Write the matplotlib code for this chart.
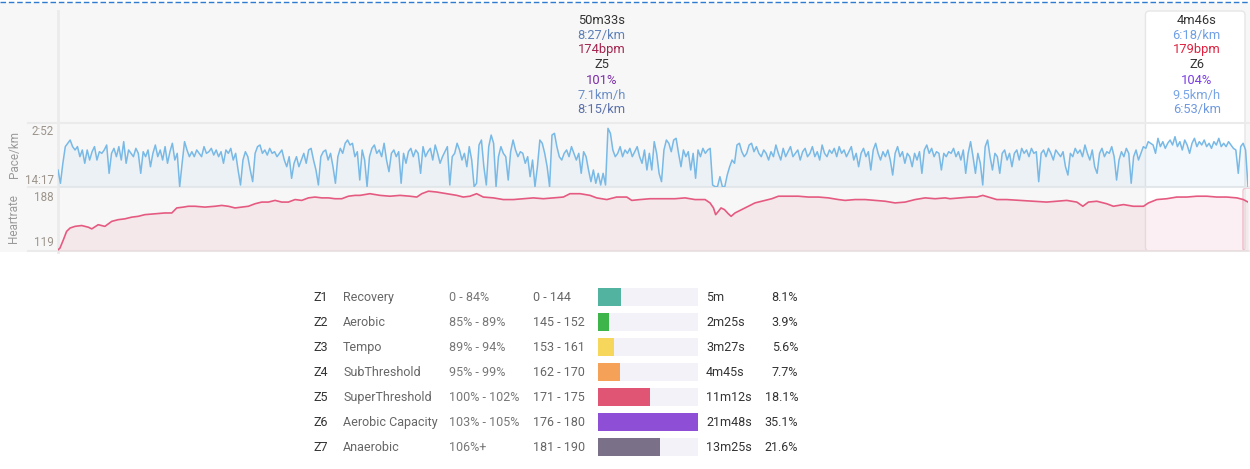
import matplotlib
matplotlib.use("Agg")
import matplotlib.pyplot as plt
from matplotlib.patches import Rectangle, FancyBboxPatch
import numpy as np

plt.rcParams['font.family'] = ['Roboto', 'DejaVu Sans']

# ---- data ----
interval_min = [50 + 33 / 60, 4 + 46 / 60]
interval_text = [
    ['50m33s', '8:27/km', '174bpm', 'Z5', '101%', '7.1km/h', '8:15/km'],
    ['4m46s', '6:18/km', '179bpm', 'Z6', '104%', '9.5km/h', '6:53/km'],
]
interval_colors = [
    ['#333333', '#5e80b8', '#a3244e', '#333333', '#7a2aa6', '#6b8fc8', '#5b70a8'],
    ['#333333', '#6f9fe4', '#e0203e', '#333333', '#7a3de0', '#79a4e6', '#6f99e0'],
]

# pace, seconds per km
pace_sec = [
    669, 816, 595, 411, 374, 338, 411, 448, 411, 522, 448, 595, 448, 559, 467, 411, 559, 467, 485, 448,
    393, 706, 485, 430, 522, 411, 559, 356, 595, 448, 485, 522, 430, 485, 706, 467, 522, 448, 633, 485,
    393, 522, 448, 559, 411, 595, 467, 374, 559, 485, 853, 595, 356, 448, 522, 467, 522, 448, 485, 522,
    411, 485, 467, 430, 504, 448, 522, 467, 595, 448, 485, 430, 559, 485, 669, 835, 559, 467, 522, 669,
    798, 485, 411, 393, 485, 448, 504, 430, 485, 467, 522, 485, 448, 559, 633, 522, 761, 595, 522, 633,
    559, 485, 595, 448, 430, 559, 669, 835, 522, 467, 448, 559, 485, 633, 816, 522, 430, 485, 374, 338,
    393,
    374, 522, 467, 780, 448, 559, 853, 522, 430, 393, 485, 448, 522, 374, 559, 688, 485, 448, 522, 467,
    816, 485, 595, 467, 430, 522, 448, 485, 706, 411, 522, 467, 430, 559, 393, 485, 595, 522, 467, 411,
    835, 522, 485, 374, 448, 559, 485, 633, 411, 559, 853, 816, 393, 338, 633, 835, 411, 283, 374, 853,
    522, 411, 485, 522, 780, 467, 338, 448, 522, 467, 485, 595, 522, 743, 559, 853, 633, 338, 374, 485,
    633, 853, 283, 264, 411, 522, 559, 485, 448, 522, 411, 485, 559, 485, 706, 467, 522, 669, 798, 669,
    816, 706, 835, 706, 835, 209, 264, 448, 522, 485, 411, 522, 448, 485, 430, 522, 467, 411, 522, 595,
    448, 669, 485,
    669, 356, 485, 706, 798, 448, 338, 374, 467, 338, 319, 485, 633, 448, 522, 467, 669, 485, 761, 448,
    522, 430, 485, 448, 430, 835, 853, 853, 743, 853, 853, 725, 633, 559, 595, 393, 374, 467, 522, 485,
    393, 374, 467, 411, 485, 522, 448, 485, 559, 467, 522, 393, 485, 559, 430, 522, 467, 411, 522, 485,
    448, 559, 467, 430, 522, 485, 411, 522, 467, 559, 393, 485, 522, 448, 485, 430, 522, 411, 485, 448,
    522, 467, 411, 559, 485, 633, 485, 430, 522, 467, 669, 448, 374, 485, 559, 467, 522, 448, 559, 725,
    485, 411, 522, 467, 595, 485, 522, 633, 485, 559, 467, 706, 448, 393, 485, 430, 522, 467, 485, 669,
    485,
    522, 467, 485, 430, 522, 467, 559, 448, 706, 485, 356, 522, 706, 485, 595, 835, 411, 338, 522, 669,
    485, 522, 706, 485, 448, 559, 485, 633, 485, 448, 559, 430, 485, 448, 522, 430, 485, 467, 798, 485,
    448, 522, 430, 485, 559, 448, 485, 522, 467, 633, 725, 485, 522, 430, 485, 448, 522, 393, 485, 559,
    448, 633, 706, 485, 430, 522, 467, 485, 411, 522, 780, 559, 467, 522, 430, 485, 816, 522, 448, 559,
    485, 411, 430, 356, 374, 393, 485, 319, 411, 356, 430, 374, 338, 393, 301, 411, 356, 448, 338, 393,
    485, 374, 319, 411, 356, 393, 338, 411, 374, 430, 356, 393, 319, 411, 374, 411, 356, 393, 430, 448,
    706, 411, 374, 448, 853,
]
pace_ticks = [172, 857]
pace_ticklabels = ['2:52', '14:17']

hr_min = [
    0.0, 0.09, 0.25, 0.4, 0.56, 0.79, 1.1, 1.41, 1.57, 1.87, 2.18, 2.5, 2.8, 3.11, 3.43, 3.73, 4.04,
    4.51, 4.97, 5.29, 5.52, 5.83, 6.06, 6.37, 6.83, 7.3, 7.61, 7.92, 8.23, 8.54, 8.85, 9.16, 9.47,
    9.78, 10.09, 10.4, 10.71, 11.02, 11.33, 11.64, 11.95, 12.26, 12.57, 12.88, 13.19, 13.5, 13.81,
    14.04, 14.5, 14.97, 15.43, 15.9, 16.36, 16.68, 16.91, 17.22, 17.6, 18.07, 18.54, 18.84, 19.15,
    19.46, 19.77, 20.24, 20.7, 21.17, 21.63, 22.1, 22.56, 23.03, 23.49, 23.8, 24.27, 24.73, 25.04,
    25.51, 25.97, 26.44, 26.67, 27.06, 27.52,
    27.75, 28.22, 28.68, 29.15, 29.61, 30.08, 30.31, 30.47, 30.57, 30.7, 30.82, 30.98, 31.16, 31.29,
    31.47, 31.78, 32.09, 32.4, 32.87, 33.18, 33.49, 33.95, 34.42, 34.88, 35.35, 35.81, 36.28, 36.59,
    37.05, 37.52, 37.98, 38.45, 38.91, 39.38, 39.84, 40.31, 40.77, 41.24,
    41.47, 41.93, 42.4, 42.71, 42.99, 43.25, 43.64, 44.1, 44.72, 45.34, 45.96, 46.43, 46.89, 47.36,
    47.64, 47.9, 48.29, 48.75, 49.06, 49.53, 49.99, 50.46, 50.69, 51.08, 51.54, 52.01, 52.47, 52.94,
    53.4, 53.87, 54.33, 54.8, 55.1, 55.32,
]
hr_bpm = [
    118, 120, 130, 140, 144, 146, 147, 145, 143, 148, 146, 152, 154, 155, 157, 158, 160, 161, 162, 162,
    168, 169, 170, 170, 169, 170, 171, 170, 168, 169, 170, 173, 175, 175, 177, 175, 175, 178, 177, 180,
    181, 180, 180, 179, 179, 182, 183,
    183, 185, 183, 182, 183, 182, 181, 185, 188, 187, 185, 183, 181, 182, 185, 181, 180, 178, 178, 179,
    180, 179, 180, 181, 185, 185, 183, 180, 178, 181, 181, 177, 178, 179,
    179, 179, 179, 180, 178, 178, 174, 168, 160, 164, 168, 166, 161, 158, 162, 166, 170, 174, 177, 179,
    182, 182, 182, 181, 181, 180, 178, 177, 178, 178, 177, 176, 174, 175, 178, 180, 179, 180,
    179, 180, 181, 181, 183, 181, 178, 178, 177, 176, 175, 176, 177, 175, 170, 175, 176, 173, 170, 172,
    170, 170, 174, 178, 179, 181, 181, 182, 182, 181, 181, 180, 178, 175,
]
hr_ticks = [119, 188]
hr_ticklabels = ['119', '188']

zones = ['Z1', 'Z2', 'Z3', 'Z4', 'Z5', 'Z6', 'Z7']
zone_names = ['Recovery', 'Aerobic', 'Tempo', 'SubThreshold', 'SuperThreshold',
              'Aerobic Capacity', 'Anaerobic']
zone_pct = ['0 - 84%', '85% - 89%', '89% - 94%', '95% - 99%', '100% - 102%',
            '103% - 105%', '106%+']
zone_bpm = ['0 - 144', '145 - 152', '153 - 161', '162 - 170', '171 - 175',
            '176 - 180', '181 - 190']
zone_time = ['5m', '2m25s', '3m27s', '4m45s', '11m12s', '21m48s', '13m25s']
zone_share = [8.1, 3.9, 5.6, 7.7, 18.1, 35.1, 21.6]
zone_colors = ['#52b3a0', '#3db54a', '#f6d75c', '#f5a157', '#e05474', '#8e4fd6', '#7a7189']

# ---- layout ----
W, H = 1250, 469
fig = plt.figure(figsize=(W / 100, H / 100), dpi=100)


def px_axes(x0, y0, x1, y1, z=1):
    return fig.add_axes([x0 / W, 1 - y1 / H, (x1 - x0) / W, (y1 - y0) / H], zorder=z)


bg = px_axes(0, 0, W, H, z=0)
bg.set_xlim(0, W)
bg.set_ylim(H, 0)
bg.axis('off')

X0, X1 = 58, 1248
total = sum(interval_min)


def tx(t):
    return X0 + t / total * (X1 - X0)


# backgrounds
bg.add_patch(Rectangle((0, 3), W, 249, color='#f7f7f7', lw=0))
split = tx(interval_min[0])
bg.add_patch(FancyBboxPatch((split, 11), 1245 - split, 240, boxstyle='round,pad=0,rounding_size=4',
                            fc='white', ec='#e6e6e6', lw=1))
bg.plot([0, W], [2, 2], color='#2f7bd0', lw=1, ls=(0, (4, 2)))
bg.plot([X0, X0], [11, 252], color='#ebebeb', lw=2)
for yy in (123, 187, 251):
    bg.plot([28, W], [yy, yy], color='#ebebeb', lw=1.5)
bg.add_patch(FancyBboxPatch((1243, 188), 10, 63, boxstyle='round,pad=0,rounding_size=3',
                            fc='none', ec='#f3c3d0', lw=1))

# interval annotations
starts = np.cumsum([0] + interval_min[:-1])
for s, d, lines, cols in zip(starts, interval_min, interval_text, interval_colors):
    cx = (tx(s) + tx(s + d)) / 2
    for i, (txt, c) in enumerate(zip(lines, cols)):
        bg.text(cx, 20 + 15 * i, txt, ha='center', va='center', fontsize=9.3, color=c)

# side labels
bg.text(14, 155, 'Pace/km', rotation=90, ha='center', va='center', fontsize=8.5, color='#9a9a9a')
bg.text(14, 219, 'Heartrate', rotation=90, ha='center', va='center', fontsize=8.5, color='#9a9a9a')

# pace panel
t_pace = np.linspace(0, total, len(pace_sec))
ax1 = px_axes(X0, 123, X1, 187)
ax1.set_facecolor('none')
ax1.fill_between(t_pace, pace_sec, 857, color='#7cb5e0', alpha=0.09, lw=0)
ax1.plot(t_pace, pace_sec, color='#78b9e6', lw=1.1)
ax1.set_xlim(0, total)
ax1.set_ylim(857, 150)

# heartrate panel
ax2 = px_axes(X0, 187, X1, 251)
ax2.set_facecolor('none')
ax2.fill_between(hr_min, hr_bpm, 116.6, color='#e0587c', alpha=0.09, lw=0)
ax2.plot(hr_min, hr_bpm, color='#e55a80', lw=1.2)
ax2.set_xlim(0, total)
ax2.set_ylim(116.6, 193)

for ax, ticks, labels, vas in ((ax1, pace_ticks, pace_ticklabels, ['top', 'bottom']),
                               (ax2, hr_ticks, hr_ticklabels, ['bottom', 'top'])):
    for sp in ax.spines.values():
        sp.set_visible(False)
    ax.set_xticks([])
    ax.set_yticks(ticks)
    ax.set_yticklabels(labels)
    ax.tick_params(axis='y', length=0, pad=3, labelsize=8.4, labelcolor='#9c948b')
    for lbl, va in zip(ax.get_yticklabels(), vas):
        lbl.set_va(va)

# zone table
rows = np.arange(len(zones))
ax3 = px_axes(598, 284.5, 698, 459.5)
ax3.axis('off')
ax3.barh(rows, [max(zone_share)] * len(zones), height=0.72, color='#f2f2f8')
ax3.barh(rows, zone_share, height=0.72, color=zone_colors)
ax3.set_xlim(0, max(zone_share))
ax3.set_ylim(len(zones) - 0.5, -0.5)

for i in rows:
    y = 297.5 + 25 * i
    bg.text(313, y, zones[i], ha='left', va='center', fontsize=9, color='#333333')
    bg.text(343, y, zone_names[i], ha='left', va='center', fontsize=9, color='#666666')
    bg.text(449, y, zone_pct[i], ha='left', va='center', fontsize=9, color='#777777')
    bg.text(533, y, zone_bpm[i], ha='left', va='center', fontsize=9, color='#666666')
    bg.text(706, y, zone_time[i], ha='left', va='center', fontsize=9, color='#333333')
    bg.text(798, y, '%.1f%%' % zone_share[i], ha='right', va='center', fontsize=9, color='#333333')

fig.savefig('out.png', dpi=100)
